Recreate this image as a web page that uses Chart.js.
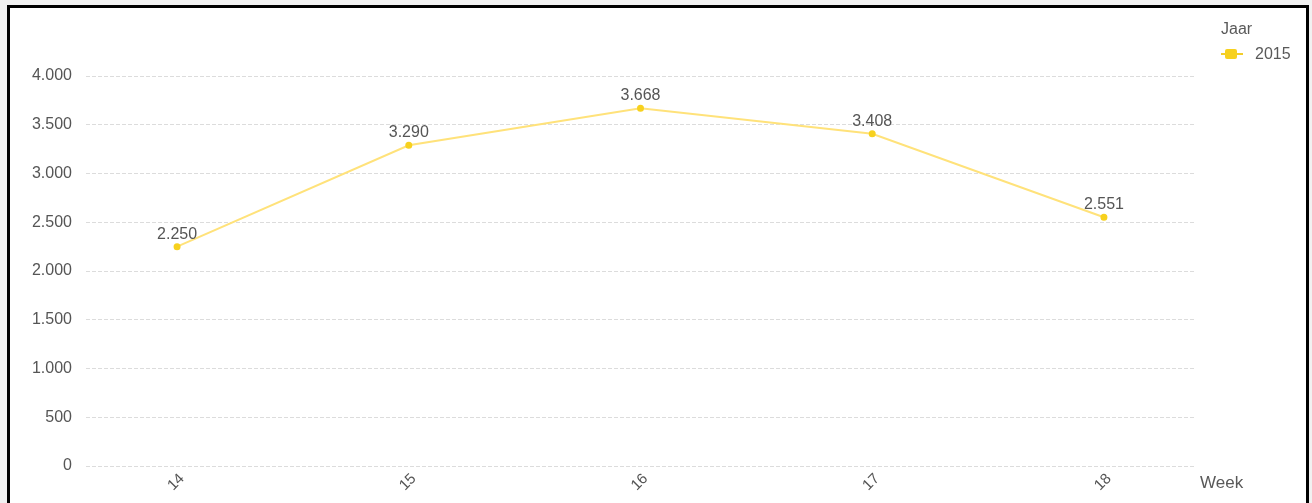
<!DOCTYPE html>
<html>
<head>
<meta charset="utf-8">
<script src="https://cdn.jsdelivr.net/npm/chart.js@4.4.0/dist/chart.umd.min.js"></script>
<style>
  html, body { margin: 0; padding: 0; background: #f1f1f1; overflow: hidden; }
  #frame {
    position: absolute; left: 7px; top: 5px; width: 1296px; height: 510px;
    border: 3px solid #000; background: #fff;
  }
  #chartBox { position: absolute; left: 0; top: 0; width: 1296px; height: 495px; }
  #legend {
    position: absolute; left: 1211px; top: 12px;
    font-family: "Liberation Sans", Arial, sans-serif; font-size: 16px; color: #595959;
  }
  #legend .item { display: flex; align-items: center; margin-top: 7px; }
  #legend .sym { position: relative; width: 22px; height: 10px; margin-right: 12px; }
  #legend .sym .ln { position: absolute; left: 0; top: 4px; width: 22px; height: 2px; background: #f2cd2b; }
  #legend .sym .pt { position: absolute; left: 4px; top: 0px; width: 12px; height: 10px; background: #f7d11e; border-radius: 2px; }
</style>
</head>
<body>
<div id="frame">
  <div id="chartBox"><canvas id="chart"></canvas></div>
  <div id="legend">
    <div>Jaar</div>
    <div class="item"><span class="sym"><span class="ln"></span><span class="pt"></span></span><span id="seriesName"></span></div>
  </div>
</div>
<script>
const weeks = [14, 15, 16, 17, 18];
const values2015 = [2250, 3290, 3668, 3408, 2551];
const yTicks = [0, 500, 1000, 1500, 2000, 2500, 3000, 3500, 4000];
const seriesLabel = "2015";
const xTitle = "Week";

document.getElementById("seriesName").innerText = seriesLabel;

const fmt = v => v.toLocaleString("nl-NL");
const fontFamily = '"Liberation Sans", Arial, sans-serif';

// value labels above each point
const valueLabels = {
  id: "valueLabels",
  afterDatasetsDraw(chart) {
    const ctx = chart.ctx;
    const meta = chart.getDatasetMeta(0);
    ctx.save();
    ctx.font = "16px " + fontFamily;
    ctx.fillStyle = "#555";
    ctx.textAlign = "center";
    ctx.textBaseline = "alphabetic";
    meta.data.forEach((pt, i) => {
      ctx.fillText(fmt(values2015[i]), pt.x, pt.y - 8);
    });
    ctx.restore();
  }
};

// "Week" label at the right end of the x axis
const axisTitle = {
  id: "axisTitle",
  afterDraw(chart) {
    const ctx = chart.ctx;
    ctx.save();
    ctx.font = "17px " + fontFamily;
    ctx.fillStyle = "#595959";
    ctx.textAlign = "left";
    ctx.textBaseline = "middle";
    ctx.fillText(xTitle, chart.chartArea.right + 5, chart.chartArea.bottom + 17);
    ctx.restore();
  }
};

new Chart(document.getElementById("chart").getContext("2d"), {
  type: "line",
  data: {
    datasets: [{
      label: seriesLabel,
      data: weeks.map((w, i) => ({ x: w, y: values2015[i] })),
      borderColor: "#ffe27a",
      borderWidth: 2,
      pointBackgroundColor: "#f7d11e",
      pointBorderColor: "#f7d11e",
      pointRadius: 2.5,
      tension: 0
    }]
  },
  options: {
    responsive: true,
    maintainAspectRatio: false,
    animation: false,
    layout: { padding: { top: 68, right: 111, left: 0, bottom: 0 } },
    plugins: {
      legend: { display: false },
      tooltip: { enabled: false }
    },
    scales: {
      x: {
        type: "linear",
        min: 13.607,
        max: 18.393,
        afterBuildTicks: axis => { axis.ticks = weeks.map(w => ({ value: w })); },
        afterFit: axis => { axis.height = 37; },
        grid: { display: false },
        border: { display: false },
        ticks: {
          minRotation: 45,
          maxRotation: 45,
          align: "center",
          padding: -4,
          labelOffset: 5,
          color: "#555",
          font: { family: fontFamily, size: 15 }
        }
      },
      y: {
        min: 0,
        max: 4000,
        afterBuildTicks: axis => { axis.ticks = yTicks.map(v => ({ value: v })); },
        afterFit: axis => { axis.width = 76; },
        grid: { color: "#dcdcdc", lineWidth: 1, drawTicks: false },
        border: { display: false, dash: [4, 2] },
        ticks: {
          padding: 14,
          color: "#555",
          font: { family: fontFamily, size: 16 },
          callback: v => fmt(v)
        }
      }
    }
  },
  plugins: [valueLabels, axisTitle]
});
</script>
</body>
</html>
